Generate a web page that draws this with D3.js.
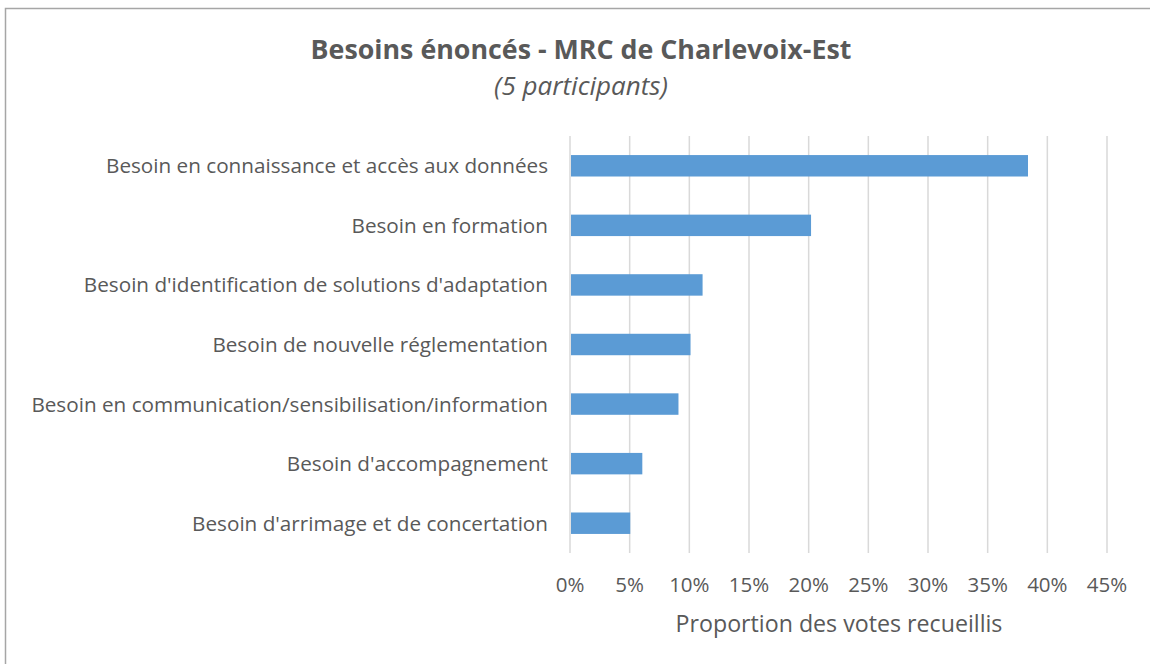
<!DOCTYPE html>
<html>
<head>
<meta charset="utf-8">
<script src="https://cdn.jsdelivr.net/npm/d3@7"></script>
<style>
  body { margin: 0; background: #fff; }
  text { font-family: "Open Sans", sans-serif; fill: #595959; }
</style>
</head>
<body>
<script>
// données (votes / 99)
var categories = [
    "Besoin en connaissance et accès aux données",
    "Besoin en formation",
    "Besoin d'identification de solutions d'adaptation",
    "Besoin de nouvelle réglementation",
    "Besoin en communication/sensibilisation/information",
    "Besoin d'accompagnement",
    "Besoin d'arrimage et de concertation"
];
var values = [0.3838, 0.2020, 0.1111, 0.1010, 0.0909, 0.0606, 0.0505];
var ticks = [0, 0.05, 0.10, 0.15, 0.20, 0.25, 0.30, 0.35, 0.40, 0.45];

var W = 1150, H = 664;
var svg = d3.select("body").append("svg").attr("width", W).attr("height", H);

// cadre du graphique (coupé à droite et en bas)
svg.append("path")
    .attr("d", "M5.5," + H + " V8.5 H" + W)
    .attr("fill", "none").attr("stroke", "#a6a6a6").attr("stroke-width", 1.5);

var x = d3.scaleLinear().domain([0, 0.45]).range([570, 1107]);
var y = d3.scaleBand().domain(categories).range([136, 553]).paddingInner(0.64).paddingOuter(0.32);

// grille verticale
svg.append("g").selectAll("line").data(ticks).enter().append("line")
    .attr("x1", function (d) { return x(d); })
    .attr("x2", function (d) { return x(d); })
    .attr("y1", 136).attr("y2", 553)
    .attr("stroke", "#d9d9d9").attr("stroke-width", 1.5);

// barres
svg.append("g").selectAll("rect").data(values).enter().append("rect")
    .attr("x", x(0) + 1)
    .attr("y", function (d, i) { return y(categories[i]); })
    .attr("width", function (d) { return x(d) - x(0) - 1; })
    .attr("height", y.bandwidth())
    .attr("fill", "#5b9bd5");

// étiquettes des catégories
svg.append("g").selectAll("text").data(categories).enter().append("text")
    .attr("x", 548)
    .attr("y", function (d) { return y(d) + y.bandwidth() / 2; })
    .attr("dy", "0.36em")
    .attr("text-anchor", "end")
    .attr("font-size", 20.7)
    .text(function (d) { return d; });

// axe x
var fmt = d3.format(".0%");
svg.append("g").selectAll("text").data(ticks).enter().append("text")
    .attr("x", function (d) { return x(d); })
    .attr("y", 592)
    .attr("text-anchor", "middle")
    .attr("font-size", 20.5)
    .text(function (d) { return fmt(d); });

svg.append("text")
    .attr("x", 839).attr("y", 632)
    .attr("text-anchor", "middle")
    .attr("font-size", 23.2)
    .text("Proportion des votes recueillis");

// titre
svg.append("text")
    .attr("x", 581).attr("y", 59)
    .attr("text-anchor", "middle")
    .attr("font-size", 26.8).attr("font-weight", "bold")
    .text("Besoins énoncés - MRC de Charlevoix-Est");

svg.append("text")
    .attr("x", 581).attr("y", 95)
    .attr("text-anchor", "middle")
    .attr("font-size", 26).attr("font-style", "italic")
    .text("(5 participants)");
</script>
</body>
</html>
